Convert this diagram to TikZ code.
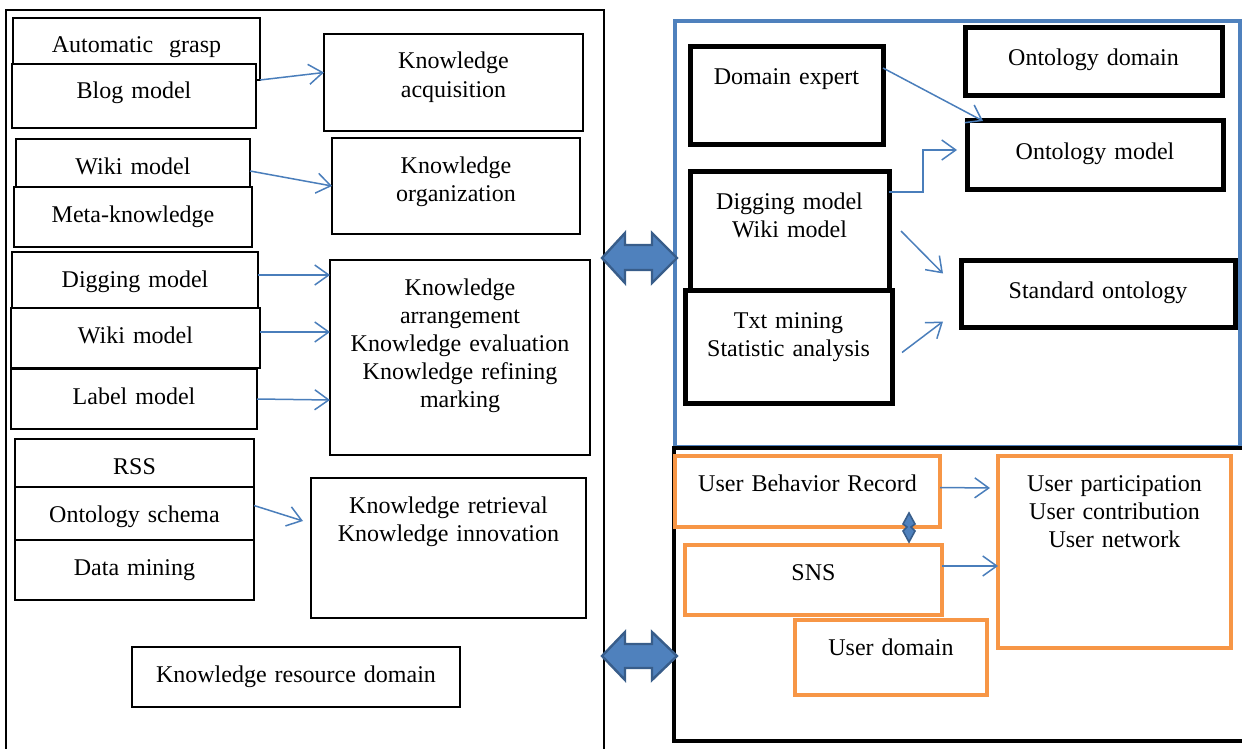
\documentclass[tikz,border=0pt]{standalone}
\usepackage{fontspec}
\setmainfont{Liberation Serif}
\usetikzlibrary{arrows.meta}
\definecolor{panelblue}{HTML}{4F81BD}
\definecolor{flowblue}{HTML}{4A7EBB}
\definecolor{blockedge}{HTML}{385D8A}
\definecolor{userorange}{HTML}{F79646}

\begin{document}
\begin{tikzpicture}[x=0.5pt,y=-0.5pt,
box/.style={draw,rectangle,fill=white,anchor=north west,line width=0.6pt,
    align=center,inner xsep=0pt,inner ysep=3.5pt,outer sep=0pt,
    text height=14pt,font=\fontsize{12}{14}\selectfont},
boxsize/.style 2 args={text width=#1,text depth=#2},
thickbox/.style={box,line width=2.5pt,text height=15.5pt},
userbox/.style={box,draw=userorange,line width=2pt},
flow/.style={draw=flowblue,line width=0.75pt,-{Straight Barb[length=7pt,width=10pt]}},
blockarrow/.style={fill=panelblue,draw=blockedge,line width=1.2pt,line join=miter}]
\useasboundingbox (0,0) rectangle (1242,749);

\draw[line width=1pt] (6,749) -- (6,10) -- (604,10) -- (604,749);
\draw[panelblue,line width=2pt] (675,21) rectangle (1240,447);
\draw[line width=2.25pt] (1242,448) -- (674,448) -- (674,741) -- (1242,741);

\node (grasp) [box,boxsize={123.5pt}{10pt}] at (13,18) {Automatic\ \ grasp};
\node (blog) [box,boxsize={122pt}{11pt}] at (12,64) {Blog model};
\node (wikione) [box,boxsize={117pt}{3.5pt}] at (16,139) {Wiki model};
\node (meta) [box,boxsize={119pt}{9pt}] at (14,187) {Meta-knowledge};
\node (digone) [box,boxsize={123pt}{9pt}] at (12,252) {Digging model};
\node (wikitwo) [box,boxsize={124.5pt}{9pt}] at (11,308) {Wiki model};
\node (labelmod) [box,boxsize={123pt}{9pt}] at (11,369) {Label model};
\node (rss) [box,boxsize={119.5pt}{3pt}] at (15,439) {RSS};
\node (schema) [box,boxsize={119.5pt}{5.5pt}] at (15,487) {Ontology schema};
\node (datamin) [box,boxsize={119.5pt}{9pt}] at (15,540) {Data mining};

\node (acq) [box,boxsize={129.5pt}{27.5pt}] at (324,34) {Knowledge\\acquisition};
\node (org) [box,boxsize={124pt}{27pt}] at (332,138) {Knowledge\\organization};
\node (arr) [box,boxsize={130pt}{76.5pt}] at (330,260)
    {Knowledge\\arrangement\\Knowledge evaluation\\Knowledge refining\\marking};
\node (ret) [box,boxsize={137.5pt}{49pt}] at (311,478)
    {Knowledge retrieval\\Knowledge innovation};
\node (resdom) [box,boxsize={164pt}{9pt}] at (132,647) {Knowledge resource domain};

\node (expert) [thickbox,boxsize={96.5pt}{26.5pt}] at (690,47) {Domain expert};
\node (ontdom) [thickbox,boxsize={128.5pt}{11.5pt}] at (965,28) {Ontology domain};
\node (ontmod) [thickbox,boxsize={128pt}{11.5pt}] at (967,121) {Ontology model};
\node (digwiki) [thickbox,boxsize={99.5pt}{37.5pt}] at (690,171) {Digging model\\Wiki model};
\node (txtmin) [thickbox,boxsize={103.5pt}{34pt}] at (685,290) {Txt mining\\Statistic analysis};
\node (stdont) [thickbox,boxsize={137pt}{11pt}] at (961,260) {Standard ontology};

\node (ubr) [userbox,boxsize={132.5pt}{14.5pt}] at (675,456) {User Behavior Record};
\node (sns) [userbox,boxsize={128.5pt}{14pt}] at (685,545) {SNS};
\node (userdom) [userbox,boxsize={96pt}{16.5pt}] at (795,620) {User domain};
\node (part) [userbox,boxsize={116.5pt}{75pt}] at (998,456)
    {User participation\\User contribution\\User network};

\draw[flow] (grasp.south east) -- ([yshift=5pt]acq.west);
\draw[flow] ([yshift=-3.75pt]wikione.east) -- (org.west);
\draw[flow] ([yshift=3.5pt]digone.east) -- ([yshift=41.25pt]arr.west);
\draw[flow] ([yshift=3pt]wikitwo.east) -- ([yshift=12.75pt]arr.west);
\draw[flow] (labelmod.east) -- ([yshift=-21.25pt]arr.west);
\draw[flow] ([yshift=4pt]schema.east) -- ([xshift=-4pt,yshift=13.5pt]ret.west);

\draw[flow] ([yshift=-10.5pt]expert.north east) -- ([xshift=8pt]ontmod.north west);
\draw[flow] ([yshift=-10.5pt]digwiki.north east) -- ++(17pt,0)
    |- ([xshift=-5pt,yshift=2.5pt]ontmod.west);
\draw[flow] ([xshift=6pt]digwiki.east) -- ([xshift=-9pt,yshift=10pt]stdont.west);
\draw[flow] ([xshift=5pt,yshift=-3pt]txtmin.east) -- ([xshift=-9pt,yshift=-14pt]stdont.west);

\draw[flow] ([yshift=2pt]ubr.east) -- ([xshift=-4pt,yshift=32pt]part.west);
\draw[flow] ([yshift=7pt]sns.east) -- ([yshift=-7pt]part.west);

\draw[blockarrow] (602,258) -- (625,233) -- (625,245) -- (652,245) -- (652,233) -- (677,258)
    -- (652,283) -- (652,270) -- (625,270) -- (625,283) -- cycle;
\draw[blockarrow] (602,656) -- (625,632) -- (625,644) -- (652,644) -- (652,632) -- (677,656)
    -- (652,680) -- (652,668) -- (625,668) -- (625,680) -- cycle;
\draw[blockarrow,line width=0.8pt] (909,513) -- (915,524) -- (911,527) -- (915,531) -- (909,542)
    -- (903,531) -- (907,527) -- (903,524) -- cycle;
\end{tikzpicture}
\end{document}
